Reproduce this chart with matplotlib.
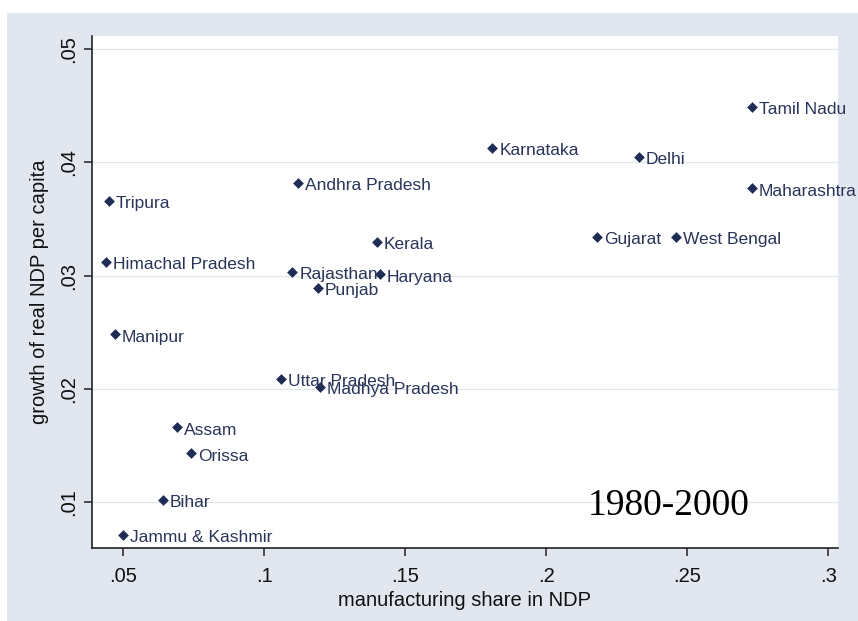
import matplotlib
matplotlib.use("Agg")
import matplotlib.pyplot as plt
from matplotlib.patches import Rectangle

states = ["Tamil Nadu", "Karnataka", "Delhi", "Maharashtra", "Gujarat", "West Bengal",
          "Andhra Pradesh", "Kerala", "Rajasthan", "Haryana", "Punjab", "Uttar Pradesh",
          "Madhya Pradesh", "Tripura", "Himachal Pradesh", "Manipur", "Assam", "Orissa",
          "Bihar", "Jammu & Kashmir"]
manuf_share = [0.273, 0.181, 0.233, 0.273, 0.218, 0.246,
               0.112, 0.140, 0.110, 0.141, 0.119, 0.106,
               0.120, 0.045, 0.044, 0.047, 0.069, 0.074,
               0.064, 0.050]
growth = [0.0449, 0.0413, 0.0405, 0.0377, 0.0334, 0.0334,
          0.0382, 0.0330, 0.0303, 0.0301, 0.0289, 0.0209,
          0.0202, 0.0366, 0.0312, 0.0248, 0.0166, 0.0143,
          0.0102, 0.0071]

xticks = [0.05, 0.10, 0.15, 0.20, 0.25, 0.30]
xticklabels = [".05", ".1", ".15", ".2", ".25", ".3"]
yticks = [0.01, 0.02, 0.03, 0.04, 0.05]
yticklabels = [".01", ".02", ".03", ".04", ".05"]

W, H = 858, 621
fig = plt.figure(figsize=(W / 100, H / 100), dpi=100, facecolor="white")
bg = Rectangle((7 / W, 0), 1, (H - 13) / H, transform=fig.transFigure,
               facecolor="#e2e6ef", edgecolor="none", zorder=-10)
fig.add_artist(bg)

ax = fig.add_axes([92 / W, 1 - 548 / H, (838 - 92) / W, (548 - 36) / H])
ax.set_zorder(1)
ax.set_facecolor("white")
ax.set_xlim(0.039, 0.3035)
ax.set_ylim(0.00594, 0.05115)

for s in ["top", "right"]:
    ax.spines[s].set_visible(False)
for s in ["left", "bottom"]:
    ax.spines[s].set_color("#222222")
    ax.spines[s].set_linewidth(1.2)

ax.set_xticks(xticks)
ax.set_xticklabels(xticklabels)
ax.set_yticks(yticks)
ax.set_yticklabels(yticklabels, rotation=90, va="center")
ax.tick_params(axis="both", direction="out", length=6, width=1.1, color="#222222",
               labelsize=14.5, labelcolor="#111111")
ax.tick_params(axis="x", pad=8)
ax.tick_params(axis="y", pad=4)
for lab in ax.get_xticklabels() + ax.get_yticklabels():
    lab.set_family("Liberation Sans")

ax.yaxis.grid(True, color="#e4e7ea", linewidth=1.0)
ax.set_axisbelow(True)

ax.scatter(manuf_share, growth, marker="D", s=30, color="#1f2c56", zorder=3, linewidths=0)
for name, xv, yv in zip(states, manuf_share, growth):
    ax.annotate(name, (xv, yv), xytext=(5, -2), textcoords="offset points",
                ha="left", va="center", fontsize=12.5, color="#2a3458",
                family="Liberation Sans", zorder=4, annotation_clip=False)

ax.set_xlabel("manufacturing share in NDP", fontsize=14.5, family="Liberation Sans",
              color="#111111", labelpad=3)
ax.set_ylabel("growth of real NDP per capita", fontsize=14.5, family="Liberation Sans",
              color="#111111", labelpad=7)

ax.text(0.2436, 0.0097, "1980-2000", ha="center", va="center", fontsize=27,
        family="Liberation Serif", color="black")

fig.savefig("out.png", dpi=100, facecolor=fig.get_facecolor())
